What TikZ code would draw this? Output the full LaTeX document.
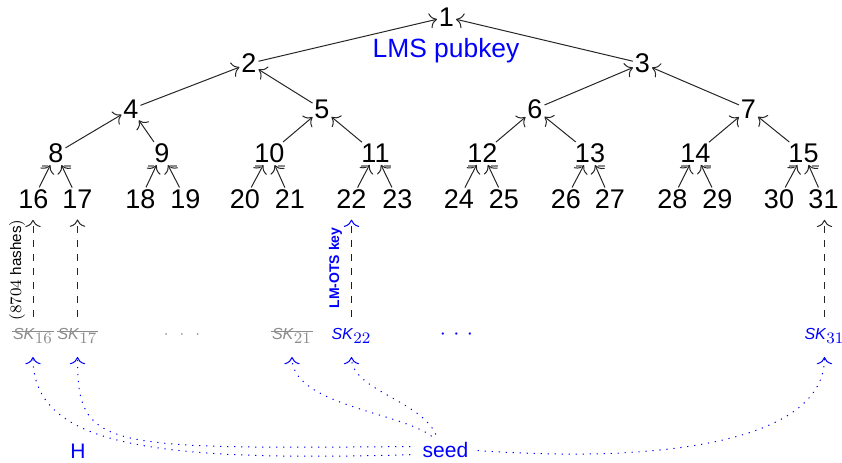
\documentclass[tikz,border=0pt]{standalone}
\usepackage[no-math]{fontspec}
\setmainfont{Liberation Sans}
\usetikzlibrary{calc,arrows.meta}
\begin{document}
\begin{tikzpicture}[x=0.5pt,y=-0.5pt,
  >={To[scale=1.35]},
  num/.style={inner sep=1pt, outer sep=0pt, font=\fontsize{13.5}{15}\selectfont},
  sk/.style={inner sep=0.5pt, outer sep=0pt, font=\fontsize{8}{9}\selectfont},
  usedkey/.style={sk, text=black!45},
  edge/.style={->, line width=0.5pt, black!85},
  graybar/.style={line width=0.6pt, black!45},
  strike/.style={line width=0.5pt, black!45},
  dasharrow/.style={->, dash pattern=on 3.5pt off 3.5pt, line width=0.5pt, black!85, shorten <=5pt, shorten >=4.6pt},
  dotarrow/.style={->, blue, line width=0.5pt, dash pattern=on 0.6pt off 2.9pt, shorten >=6pt},
  bluelabel/.style={text=blue, inner sep=1pt}
]
\useasboundingbox (0,0) rectangle (842,462);

% tree nodes
\node[num] (n1) at (446.5,17) {1};
\node[num] (n2) at (249,63.5) {2};
\node[num] (n3) at (642.5,63.5) {3};
\node[num] (n4) at (131,109) {4};
\node[num] (n5) at (322,109) {5};
\node[num] (n6) at (535,109) {6};
\node[num] (n7) at (748.5,109) {7};
\foreach \n/\x in {8/56,9/162,10/269.5,11/375.5,12/482.5,13/590,14/695.5,15/803.5}
  \node[num] (n\n) at (\x,153.5) {\n};
\foreach \n/\x in {16/33.5,17/77.5,18/140.5,19/185.5,20/245,21/290,22/351.5,23/397.5,
                   24/459,25/504,26/566,27/610,28/672.5,29/717.5,30/779,31/823.5}
  \node[num] (n\n) at (\x,199) {\n};

\node[bluelabel, anchor=base, font=\fontsize{13.2}{15}\selectfont] (pub) at (446,57) {LMS pubkey};

% tree edges
\foreach \c/\p in {2/1,3/1,4/2,5/2,6/3,7/3,8/4,9/4,10/5,11/5,12/6,13/6,14/7,15/7,
                   16/8,17/8,18/9,19/9,20/10,21/10,22/11,23/11,24/12,25/12,26/13,27/13,
                   28/14,29/14,30/15,31/15}
  \draw[edge] (n\c) -- (n\p);

% small gray bars under the level-3 nodes
\foreach \n in {8,...,15}{
  \draw[graybar] ($(n\n)+(-14.5,12.5)$) -- ($(n\n)+(-8,12.5)$);
  \draw[graybar] ($(n\n)+(8,12.5)$) -- ($(n\n)+(15,12.5)$);
}

% secret keys
\node[usedkey] (sk16) at (33,336) {\textit{SK}$_{\textstyle 16}$};
\node[usedkey] (sk17) at (77.5,336) {\textit{SK}$_{\textstyle 17}$};
\node[usedkey, font=\fontsize{8}{9}\selectfont] (dots1) at (182,335) {$\cdot$\hspace{5.5pt}$\cdot$\hspace{5.5pt}$\cdot$};
\node[usedkey] (sk21) at (292,336) {\textit{SK}$_{\textstyle 21}$};
\node[sk, text=blue] (sk22) at (351.5,336) {\textit{SK}$_{\textstyle 22}$};
\node[sk, text=blue, font=\fontsize{11}{12}\selectfont] (dots2) at (456.5,335) {$\cdot$\hspace{3.7pt}$\cdot$\hspace{3.7pt}$\cdot$};
\node[sk, text=blue] (sk31) at (824.5,336) {\textit{SK}$_{\textstyle 31}$};

\foreach \k in {sk16,sk17,sk21}
  \draw[strike] ($(\k.west)+(0,-5)$) -- ($(\k.east)+(0,-5)$);

% dashed arrows to leaves
\draw[dasharrow] (sk16.north) -- (sk16.north |- n16.south);
\draw[dasharrow] (sk17.north) -- (sk17.north |- n17.south);
\draw[dasharrow, blue] (sk22.north) -- (sk22.north |- n22.south);
\draw[dasharrow] (sk31.north) -- (sk31.north |- n31.south);

\node[rotate=90, inner sep=0pt, font=\fontsize{7.6}{9}\selectfont] (hashes) at (17,270) {$(8704$ hashes$)$};
\node[rotate=90, inner sep=0pt, text=blue, font=\bfseries\fontsize{7}{8}\selectfont] (otskey) at (335.5,268) {LM-OTS key};

% seed and H
\node[bluelabel, font=\fontsize{10.5}{12}\selectfont] (seed) at (445.5,450) {seed};
\node[bluelabel, font=\fontsize{10.5}{12}\selectfont] (H) at (78,451.5) {H};

% dotted derivation arrows
\draw[dotarrow, shorten <=5pt] (seed.190) .. controls (150,462) and (33,445) .. (sk16.south);
\draw[dotarrow, shorten <=5pt] (seed.172) .. controls (100,449) and (77.5,449) .. (sk17.south);
\draw[dotarrow, shorten <=3pt] (seed.132) .. controls (400,412) and (292,405) .. (sk21.south);
\draw[dotarrow, shorten <=3pt] (seed.125) .. controls (420,400) and (351.5,390) .. (sk22.south);
\draw[dotarrow, shorten <=3.5pt] (seed.east) .. controls (650,463) and (824.5,445) .. (sk31.south);
\end{tikzpicture}
\end{document}
